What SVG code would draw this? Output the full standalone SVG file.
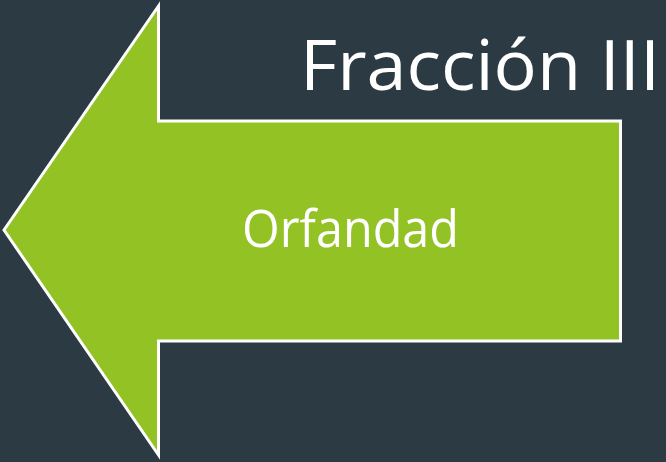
<svg xmlns="http://www.w3.org/2000/svg" width="666" height="462" viewBox="0 0 666 462">
<style>
.bg{fill:#2C3B43}
.arrow{fill:#93C225;stroke:#FFFFFF;stroke-width:3;stroke-linejoin:miter}
.title{font-family:"Open Sans","DejaVu Sans",sans-serif;fill:#FFFFFF;font-size:70px}
.label{font-family:"Open Sans","DejaVu Sans",sans-serif;fill:#FFFFFF;font-size:51px}
</style>
<rect class="bg" x="0" y="0" width="666" height="462"/>
<g id="arrow-node">
<polygon class="arrow" points="4,230 158.5,6 158.5,121 620.5,121 620.5,341 158.5,341 158.5,455"/>
<text class="label" x="242" y="247" textLength="217" lengthAdjust="spacingAndGlyphs">Orfandad</text>
</g>
<g id="title">
<text class="title" x="300" y="90" textLength="360" lengthAdjust="spacingAndGlyphs">Fracción III</text>
</g>
<g id="connectors"/>
</svg>
